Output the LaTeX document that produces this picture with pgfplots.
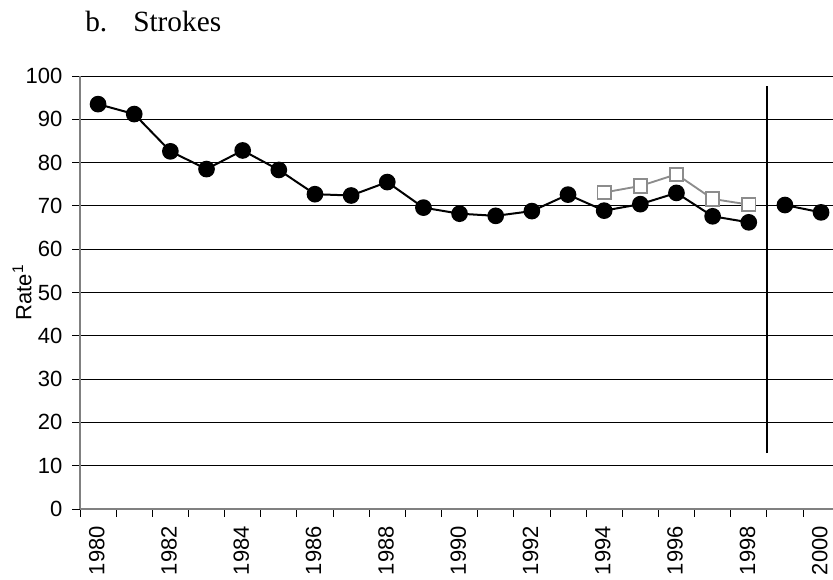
\documentclass[border=0pt]{standalone}
\usepackage{pgfplots}
\pgfplotsset{compat=1.18}
\usepackage{fontspec}
\setmainfont{Liberation Sans}
\newfontfamily\seriffont{Liberation Serif}
\definecolor{lgray}{HTML}{8C8C8C}
\definecolor{agray}{HTML}{808080}
\begin{document}
\begin{tikzpicture}
\path[use as bounding box] (0,0) rectangle (624.75pt,435pt);
\node[anchor=base west,font=\seriffont\fontsize{22}{26}\selectfont,inner sep=0pt] at (63.75pt,411pt) {b.};
\node[anchor=base west,font=\seriffont\fontsize{22}{26}\selectfont,inner sep=0pt] at (99.75pt,411pt) {Strokes};
\begin{axis}[
  at={(60pt,53.25pt)}, anchor=south west,
  scale only axis, width=564.75pt, height=324.75pt,
  xmin=1979.5, xmax=2000.33, ymin=0, ymax=100,
  axis lines=left, axis line style={agray, line width=0.9pt, -},
  ytick={0,10,...,100},
  xtick={1980,1982,...,2000},
  minor xtick={1979.5,1980.5,...,2000.5},
  major x tick style={draw=none},
  minor x tick style={black, line width=0.6pt},
  major y tick style={black, line width=0.6pt},
  tick align=outside,
  major tick length=6pt, minor tick length=6pt,
  ymajorgrids, grid style={black, line width=0.6pt},
  /pgf/number format/assume math mode=true,
  /pgf/number format/1000 sep={},
  tick label style={font=\fontsize{16.5}{19}\selectfont},
  yticklabel style={anchor=east, inner sep=0pt, xshift=-7pt},
  xticklabel style={rotate=90, anchor=east, inner sep=0pt, xshift=-6.75pt, yshift=1pt},
  ylabel={Rate$^{\mathrm{1}}$},
  ylabel style={at={(axis description cs:0,0.5)}, anchor=center, yshift=43.5pt, font=\fontsize{16.5}{19}\selectfont},
  clip=false,
]
\addplot[black, line width=1.5pt, mark=*, mark size=5.5pt, mark options={fill=black}] coordinates {
(1980,93.5)(1981,91.2)(1982,82.6)(1983,78.5)(1984,82.8)(1985,78.3)(1986,72.7)(1987,72.4)(1988,75.5)(1989,69.6)(1990,68.2)(1991,67.7)(1992,68.8)(1993,72.6)(1994,68.9)(1995,70.4)(1996,73.0)(1997,67.6)(1998,66.2)};
\addplot[black, line width=1.5pt, mark=*, mark size=5.5pt, mark options={fill=black}] coordinates {
(1999,70.2)(2000,68.5)};
\addplot[lgray, line width=1.4pt, mark=square*, mark size=5pt, mark options={fill=white, draw=lgray, line width=1.4pt}] coordinates {
(1994,73.1)(1995,74.6)(1996,77.3)(1997,71.6)(1998,70.3)};
\addplot[black, line width=1.5pt, no marks] coordinates {(1998.5,12.9)(1998.5,97.7)};
\end{axis}
\end{tikzpicture}
\end{document}
